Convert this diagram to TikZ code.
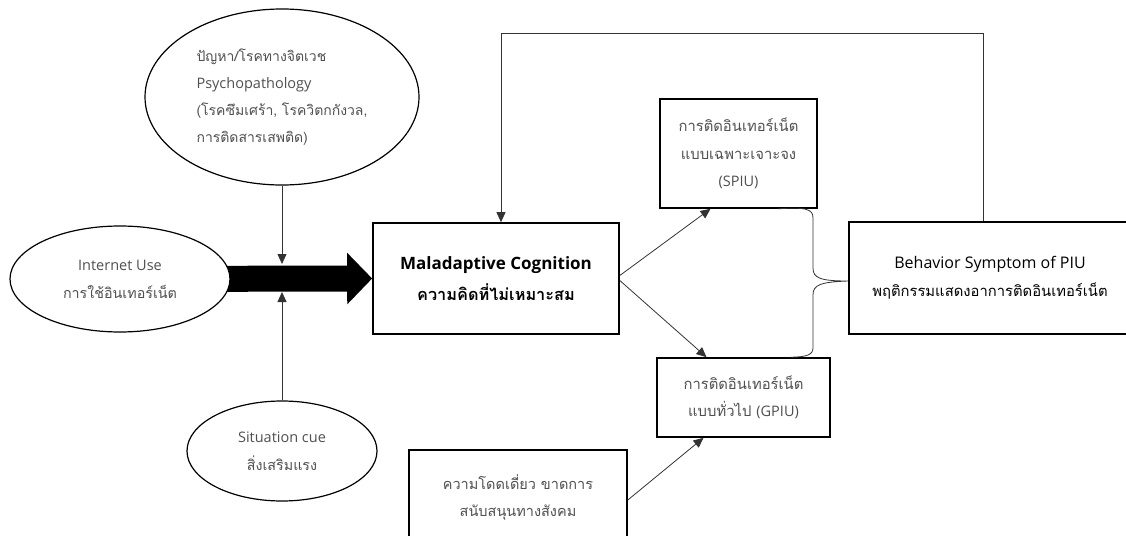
\documentclass[tikz,border=0pt]{standalone}
\usepackage{fontspec}
\newfontfamily\thai[Script=Thai]{Loma}
\newfontfamily\latf{Open Sans}
\usetikzlibrary{shapes.geometric,arrows.meta,calc}
\pgfdeclarelayer{bg}
\pgfsetlayers{bg,main}
\definecolor{txtgray}{HTML}{505050}
\definecolor{linegray}{HTML}{333333}
\tikzset{
  ell/.style={ellipse, draw=black, line width=1.2pt, fill=white, inner sep=0pt,
    font=\thai\fontsize{14.3}{28}\selectfont, text=txtgray, align=center},
  boxn/.style={rectangle, draw=black, line width=1.6pt, fill=white, inner sep=0pt,
    font=\thai\fontsize{14.8}{27.5}\selectfont, text=txtgray, align=center},
  bigbox/.style={boxn, text=black},
  conn/.style={draw=linegray, line width=0.8pt, -{Triangle[length=10pt,width=9pt]}},
  plain/.style={draw=linegray, line width=0.8pt},
  fat/.style={draw=black, line width=26pt, -{Triangle[length=25pt,width=50pt]}}
}
\begin{document}
\begin{tikzpicture}[x=1pt,y=-1pt]
\useasboundingbox (0,0) rectangle (1126,535);
\clip (0,0) rectangle (1126,535);

\node[ell, minimum width=274pt, minimum height=176pt, align=left, font=\thai\fontsize{14}{27}\selectfont] (psy) at (282,97)
  {ปัญหา/โรคทางจิตเวช\\{\latf\fontsize{14.5}{27}\selectfont Psychopathology}\\(โรคซึมเศร้า, โรควิตกกังวล,\\การติดสารเสพติด)};
\node[ell, minimum width=220pt, minimum height=106pt] (inet) at (120,279)
  {{\latf\fontsize{14.5}{28}\selectfont Internet Use}\\การใช้อินเทอร์เน็ต};
\node[ell, minimum width=190pt, minimum height=100pt] (sit) at (282,451)
  {{\latf\fontsize{14.5}{28}\selectfont Situation cue}\\สิ่งเสริมแรง};

\node[bigbox, minimum width=246pt, minimum height=111pt, font=\thai\bfseries\fontsize{16.3}{31}\selectfont] (mal) at (496,278.5)
  {{\latf\bfseries\fontsize{17}{31}\selectfont Maladaptive Cognition}\\ความคิดที่ไม่เหมาะสม};
\node[boxn, minimum width=157pt, minimum height=109pt] (spiu) at (738.5,153.5)
  {การติดอินเทอร์เน็ต\\แบบเฉพาะเจาะจง\\{\latf\fontsize{14.5}{27.5}\selectfont (SPIU)}};
\node[boxn, minimum width=173pt, minimum height=79pt] (gpiu) at (743.5,397.5)
  {การติดอินเทอร์เน็ต\\แบบทั่วไป {\latf\fontsize{14.5}{27.5}\selectfont (GPIU)}};
\node[bigbox, minimum width=282pt, minimum height=112pt, font=\thai\fontsize{14.8}{28}\selectfont] (beh) at (990,278)
  {{\latf\fontsize{16}{28}\selectfont Behavior Symptom of PIU}\\พฤติกรรมแสดงอาการติดอินเทอร์เน็ต};
\node[boxn, minimum width=218pt, minimum height=94pt, font=\thai\fontsize{14.5}{27}\selectfont] (lone) at (518,497)
  {ความโดดเดี่ยว ขาดการ\\สนับสนุนทางสังคม};

\begin{pgfonlayer}{bg}
  \draw[fat] (inet.center) -- (mal.west);
\end{pgfonlayer}

\coordinate (jt) at (282,264);
\coordinate (jb) at (282,292);
\draw[conn] (psy.south -| jt) -- (jt);
\draw[conn] (sit.north -| jb) -- (jb);

\coordinate (fbR) at (983,33);
\coordinate (fbL) at (501,33);
\draw[conn] (beh.north -| fbR) -- (fbR) -- (fbL) -- (mal.north -| fbL);

\draw[conn] ($(mal.east)+(0,-3)$) -- ($(spiu.south)+(-28,0)$);
\draw[conn] ($(mal.east)+(0,2)$) -- ($(gpiu.north)+(-37,0)$);
\draw[conn] ($(lone.east)+(0,3)$) -- ($(gpiu.south)+(-40,0)$);

\coordinate (bt) at ($(spiu.south east)+(-40,0)$);
\coordinate (bb) at ($(gpiu.north east)+(-40,0)$);
\coordinate (tip) at ($(beh.west)+(0,3)$);
\draw[plain] (bt) .. controls (806,207) and (813,209) .. (813,218)
  -- (813,268) .. controls (813,278) and (820,281) .. (tip)
  .. controls (820,282) and (813,285) .. (813,295)
  -- (813,348) .. controls (813,355) and (806,357) .. (bb);
\end{tikzpicture}
\end{document}
